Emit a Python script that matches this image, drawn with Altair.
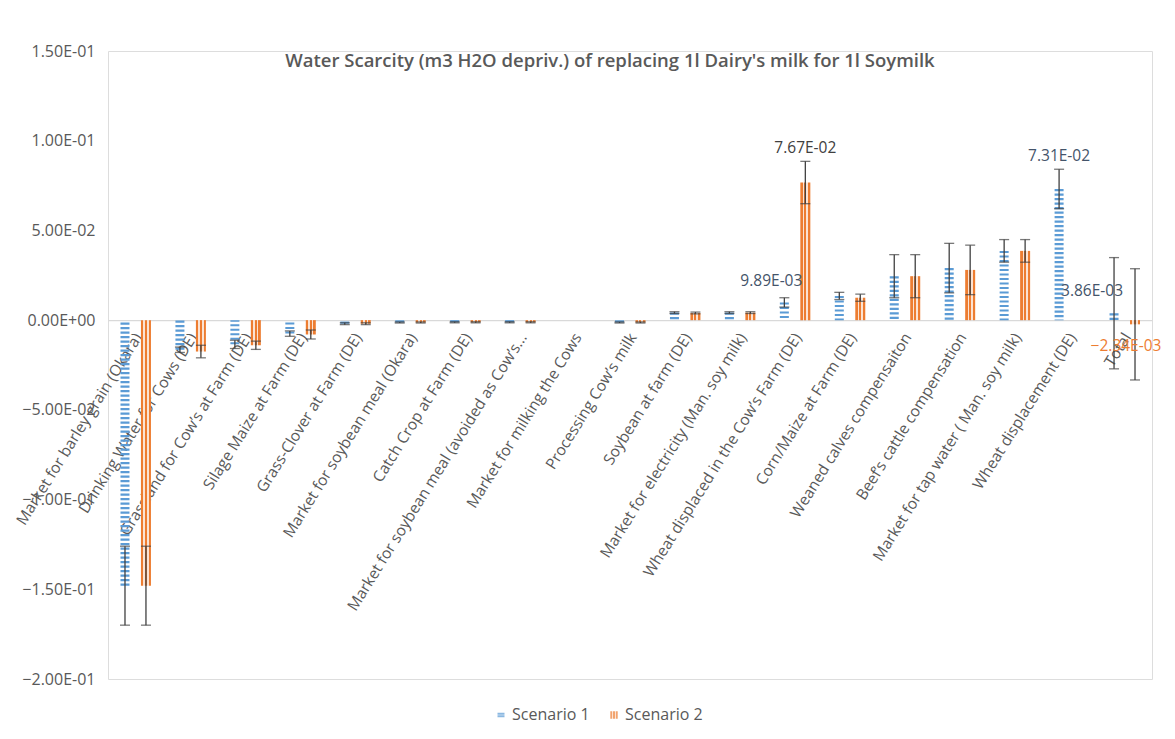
import altair as alt
import pandas as pd

# ---------------- data ----------------
categories = [
    "Market for barley grain (Okara)",
    "Drinking Water for Cows (DE)",
    "Grassland for Cow\u2019s at Farm (DE)",
    "Silage Maize at Farm (DE)",
    "Grass-Clover at Farm (DE)",
    "Market for soybean meal (Okara)",
    "Catch Crop at Farm (DE)",
    "Market for soybean meal (avoided as Cow\u2019s...",
    "Market for milking the Cows",
    "Processing Cow\u2019s milk",
    "Soybean at farm (DE)",
    "Market for electricity (Man. soy milk)",
    "Wheat displaced in the Cow\u2019s Farm (DE)",
    "Corn/Maize at Farm (DE)",
    "Weaned calves compensaiton",
    "Beef\u2019s cattle compensation",
    "Market for tap water ( Man. soy milk)",
    "Wheat displacement (DE)",
    "Total",
]
series_names = ["Scenario 1", "Scenario 2"]

s1_values = [-0.148, -0.0165, -0.0135, -0.0075, -0.002, -0.0013, -0.0012, -0.0012, 0.0,
             -0.0013, 0.0042, 0.0042, 0.00989, 0.0135, 0.0245, 0.029, 0.0386, 0.0731, 0.00386]
s1_errors = [0.022, 0.0015, 0.0023, 0.0015, 0.0005, 0.0003, 0.0003, 0.0003, 0.0,
             0.0003, 0.0005, 0.0005, 0.0026, 0.002, 0.012, 0.0138, 0.0063, 0.011, 0.031]
s2_values = [-0.148, -0.0175, -0.014, -0.008, -0.002, -0.0013, -0.0012, -0.0012, 0.0,
             -0.0013, 0.004, 0.0042, 0.0767, 0.0125, 0.0245, 0.028, 0.0386, None, -0.00234]
s2_errors = [0.022, 0.0035, 0.0023, 0.0025, 0.0005, 0.0003, 0.0003, 0.0003, 0.0,
             0.0003, 0.0005, 0.0005, 0.0118, 0.002, 0.012, 0.0138, 0.0063, None, 0.031]

y_ticks = [0.15, 0.10, 0.05, 0.0, -0.05, -0.10, -0.15, -0.20]
y_domain = [-0.20, 0.15]
title_text = "Water Scarcity (m3 H2O depriv.) of replacing 1l Dairy's milk for 1l Soymilk"

# data labels shown on the chart: (category, series)
labelled = [
    ("Wheat displaced in the Cow\u2019s Farm (DE)", "Scenario 1"),
    ("Wheat displaced in the Cow\u2019s Farm (DE)", "Scenario 2"),
    ("Wheat displacement (DE)", "Scenario 1"),
    ("Total", "Scenario 1"),
    ("Total", "Scenario 2"),
]

# ---------------- table ----------------
rows = []
for i, c in enumerate(categories):
    for s, vals, errs in (("Scenario 1", s1_values, s1_errors), ("Scenario 2", s2_values, s2_errors)):
        v, e = vals[i], errs[i]
        if v is None:
            continue
        rows.append({"category": c, "series": s, "value": v, "err": e, "lo": v - e, "hi": v + e})
df = pd.DataFrame(rows)

# ---------------- styling ----------------
FONT = "Open Sans"
GRAY = "#595959"
BLUE = "#5B9BD5"
ORANGE = "#ED7D31"
LIGHT = "#FBE3D3"
ERR = "#404040"
W, H = 1044, 628
zero_px = H * y_domain[1] / (y_domain[1] - y_domain[0])
x_axis_offset = -(H - zero_px)

sci = "replace(replace(format({v}, '.2e'), 'e-', 'E-0'), 'e+', 'E+0')"

x_enc = alt.X(
    "category:N",
    sort=categories,
    scale=alt.Scale(domain=categories, paddingInner=0, paddingOuter=0),
    axis=alt.Axis(
        title=None, labelAngle=-58, labelAlign="right", labelBaseline="middle",
        ticks=False, labelPadding=14, labelOffset=3, offset=x_axis_offset,
        domainColor="#D9D9D9", domainWidth=1.2, labelColor=GRAY, labelFont=FONT,
        labelFontSize=15.5, labelLimit=0, labelOverlap=False, grid=False,
    ),
)
xo_enc = alt.XOffset(
    "series:N",
    scale=alt.Scale(domain=series_names, paddingInner=0, paddingOuter=0.31),
)
y_scale = alt.Scale(domain=y_domain, nice=False, zero=False)
y_enc = alt.Y(
    "value:Q",
    scale=y_scale,
    axis=alt.Axis(
        title=None, values=y_ticks, ticks=False, domain=False, grid=False,
        labelExpr=sci.format(v="datum.value"), labelColor=GRAY, labelFont=FONT,
        labelFontSize=16, labelPadding=13,
    ),
)

base = alt.Chart(df)

s1_bars = base.transform_filter(alt.datum.series == "Scenario 1").mark_rule(
    strokeWidth=9, strokeDash=[2.2, 2.3], color=BLUE
).encode(x=x_enc, xOffset=xo_enc, y=y_enc, y2=alt.Y2(datum=0))

stripe = alt.Gradient(
    gradient="linear", x1=0, x2=1, y1=0, y2=0,
    stops=[
        alt.GradientStop(offset=0.0, color=ORANGE),
        alt.GradientStop(offset=0.24, color=ORANGE),
        alt.GradientStop(offset=0.24, color=LIGHT),
        alt.GradientStop(offset=0.40, color=LIGHT),
        alt.GradientStop(offset=0.40, color=ORANGE),
        alt.GradientStop(offset=0.60, color=ORANGE),
        alt.GradientStop(offset=0.60, color=LIGHT),
        alt.GradientStop(offset=0.76, color=LIGHT),
        alt.GradientStop(offset=0.76, color=ORANGE),
        alt.GradientStop(offset=1.0, color=ORANGE),
    ],
)
s2_bars = base.transform_filter(alt.datum.series == "Scenario 2").mark_bar(
    size=10, color=stripe
).encode(x=x_enc, xOffset=xo_enc, y=y_enc, y2=alt.Y2(datum=0))

err_base = base.transform_filter(alt.datum.err > 0)
err_rule = err_base.mark_rule(color=ERR, strokeWidth=1.3).encode(
    x=x_enc, xOffset=xo_enc, y=alt.Y("lo:Q", scale=y_scale), y2="hi:Q"
)
cap_lo = err_base.mark_tick(color=ERR, thickness=1.3, size=10).encode(
    x=x_enc, xOffset=xo_enc, y=alt.Y("lo:Q", scale=y_scale)
)
cap_hi = err_base.mark_tick(color=ERR, thickness=1.3, size=10).encode(
    x=x_enc, xOffset=xo_enc, y=alt.Y("hi:Q", scale=y_scale)
)

label_style = [
    {"dx": -13, "dy": -21, "color": "#44546A"},
    {"dx": 0, "dy": -35, "color": "#404040"},
    {"dx": 0, "dy": -33, "color": "#44546A"},
    {"dx": -22, "dy": -22, "color": "#44546A"},
    {"dx": -9, "dy": 22, "color": ORANGE},
]
label_layers = []
for (cat, ser), st in zip(labelled, label_style):
    label_layers.append(
        base.transform_filter((alt.datum.category == cat) & (alt.datum.series == ser))
        .transform_calculate(txt=sci.format(v="datum.value"))
        .mark_text(font=FONT, fontSize=15.5, baseline="middle", align="center",
                   dx=st["dx"], dy=st["dy"], color=st["color"])
        .encode(x=x_enc, xOffset=xo_enc, y=y_enc, text="txt:N")
    )

legend_cfg = dict(
    title=None, orient="none", direction="horizontal", legendX=385, legendY=656,
    labelFont=FONT, labelFontSize=16, labelColor=GRAY, symbolStrokeWidth=2,
    symbolSize=60, columnPadding=16, labelOffset=3,
)
legend_layer = base.transform_filter("false").mark_point(filled=False, strokeWidth=2).encode(
    color=alt.Color(
        "series:N",
        scale=alt.Scale(domain=series_names, range=[BLUE, ORANGE]),
        legend=alt.Legend(**legend_cfg),
    ),
    shape=alt.Shape(
        "series:N",
        scale=alt.Scale(
            domain=series_names,
            range=["M-0.9,-0.35H0.9M-0.9,0.35H0.9", "M-0.7,-1V1M0,-1V1M0.7,-1V1"],
        ),
        legend=alt.Legend(**legend_cfg),
    ),
)

chart = alt.layer(
    s1_bars, s2_bars, err_rule, cap_lo, cap_hi, *label_layers, legend_layer
).properties(
    width=W, height=H,
    title=alt.TitleParams(title_text, font=FONT, fontSize=18.5, fontWeight=600, color=GRAY,
                          anchor="middle", offset=-27, dx=-20),
    autosize=alt.AutoSizeParams(type="none"),
    padding={"left": 100, "top": 43, "right": 15, "bottom": 50},
).configure_view(stroke=None).configure(background="white")

chart.save("out.html", embed_options={"renderer": "svg", "actions": False})
